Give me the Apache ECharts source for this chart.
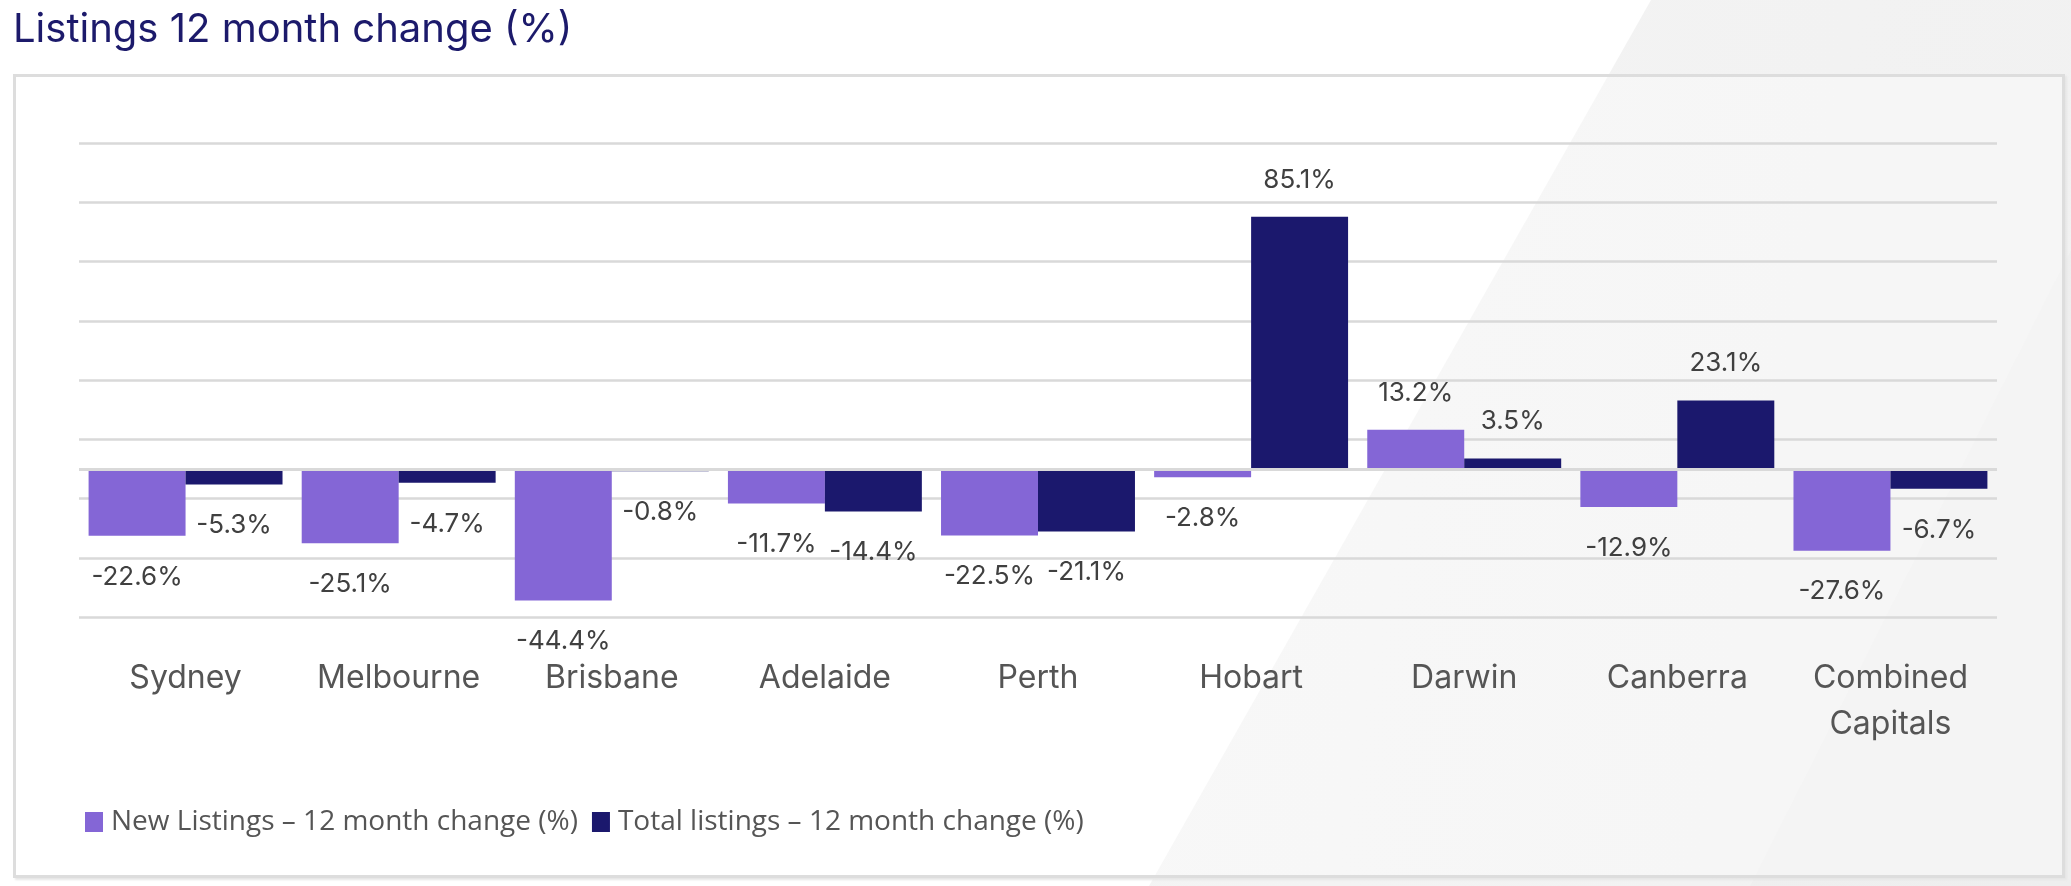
<!DOCTYPE html>
<html>
<head>
<meta charset="utf-8">
<script src="https://cdn.jsdelivr.net/npm/echarts@6/dist/echarts.min.js"></script>
<style>
  html, body { margin: 0; padding: 0; width: 2071px; height: 886px; overflow: hidden; background: #ffffff; position: relative; }
  #bg1 { position: absolute; left: 0; top: 0; width: 2071px; height: 886px;
         background: linear-gradient(100deg, #f7f7f7 0%, #f1f1f1 100%);
         clip-path: polygon(1651px 0, 2071px 0, 2071px 886px, 1149px 886px); }
  #bg2 { position: absolute; left: 0; top: 0; width: 2071px; height: 886px;
         background: #ededed; opacity: 0.6;
         clip-path: polygon(2071px 250px, 2071px 886px, 1750px 886px); }
  #panel { position: absolute; left: 13px; top: 74px; width: 2046px; height: 798px;
           border: 3px solid #dddddd; box-shadow: 2px 2px 2px #e6e6e6; background: rgba(255,255,255,0.35); }
  #chart { position: absolute; left: 0; top: 0; width: 2071px; height: 886px; }
</style>
</head>
<body>
<div id="bg1"></div>
<div id="bg2"></div>
<div id="panel"></div>
<div id="chart"></div>
<script>
const categories = ['Sydney', 'Melbourne', 'Brisbane', 'Adelaide', 'Perth', 'Hobart', 'Darwin', 'Canberra', 'Combined\nCapitals'];
const newListings = [-22.6, -25.1, -44.4, -11.7, -22.5, -2.8, 13.2, -12.9, -27.6];
const totalListings = [-5.3, -4.7, -0.8, -14.4, -21.1, 85.1, 3.5, 23.1, -6.7];
const seriesNames = ['New Listings \u2013 12 month change (%)', 'Total listings \u2013 12 month change (%)'];
const titleText = 'Listings 12 month change (%)';

const labelFont = 'Inter, "Open Sans", sans-serif';

function items(arr) {
  return arr.map(v => ({
    value: v,
    label: v < 0 ? { position: 'bottom', distance: 28 } : { position: 'top', distance: 24 }
  }));
}

const chart = echarts.init(document.getElementById('chart'), null, { renderer: 'canvas' });
chart.setOption({
  backgroundColor: 'transparent',
  animation: false,
  title: {
    text: titleText,
    left: 8, top: 2,
    textStyle: { fontFamily: 'Inter, "Open Sans", sans-serif', fontSize: 40, fontWeight: 'normal', color: '#1c1a6b', lineHeight: 46 }
  },
  legend: {
    left: 80, top: 803,
    itemWidth: 18, itemHeight: 20, itemGap: 14,
    icon: 'rect',
    textStyle: { fontFamily: '"Open Sans", Lato, sans-serif', fontSize: 28, color: '#555555', padding: [0, 0, 0, 3] },
    data: seriesNames
  },
  grid: { left: 79, right: 74, top: 143, bottom: 269, containLabel: false },
  xAxis: {
    type: 'category',
    data: categories,
    axisLine: { show: false, onZero: false },
    axisTick: { show: false },
    axisLabel: {
      margin: 38, fontFamily: 'Inter, "Open Sans", sans-serif', fontSize: 32, color: '#555555', lineHeight: 46
    }
  },
  yAxis: {
    type: 'value',
    min: -50, max: 110, interval: 20,
    axisLine: { show: false },
    axisTick: { show: false },
    axisLabel: { show: false },
    splitLine: { lineStyle: { color: '#d9d9d9', width: 2.5 } }
  },
  series: [
    {
      name: seriesNames[0],
      type: 'bar',
      data: items(newListings),
      barGap: '0%',
      barCategoryGap: '9%',
      itemStyle: { color: '#8466d6' },
      label: {
        show: true, fontFamily: labelFont, fontSize: 26, color: '#404040',
        formatter: p => p.value.toFixed(1) + '%'
      },
      markLine: {
        silent: true, symbol: 'none', label: { show: false },
        lineStyle: { color: '#d9d9d9', width: 3, type: 'solid' },
        data: [{ yAxis: 0 }]
      },
      z: 3
    },
    {
      name: seriesNames[1],
      type: 'bar',
      data: items(totalListings),
      barGap: '0%',
      barCategoryGap: '9%',
      itemStyle: { color: '#1b186d' },
      label: {
        show: true, fontFamily: labelFont, fontSize: 26, color: '#404040',
        formatter: p => p.value.toFixed(1) + '%'
      },
      z: 3
    }
  ]
});
</script>
</body>
</html>
